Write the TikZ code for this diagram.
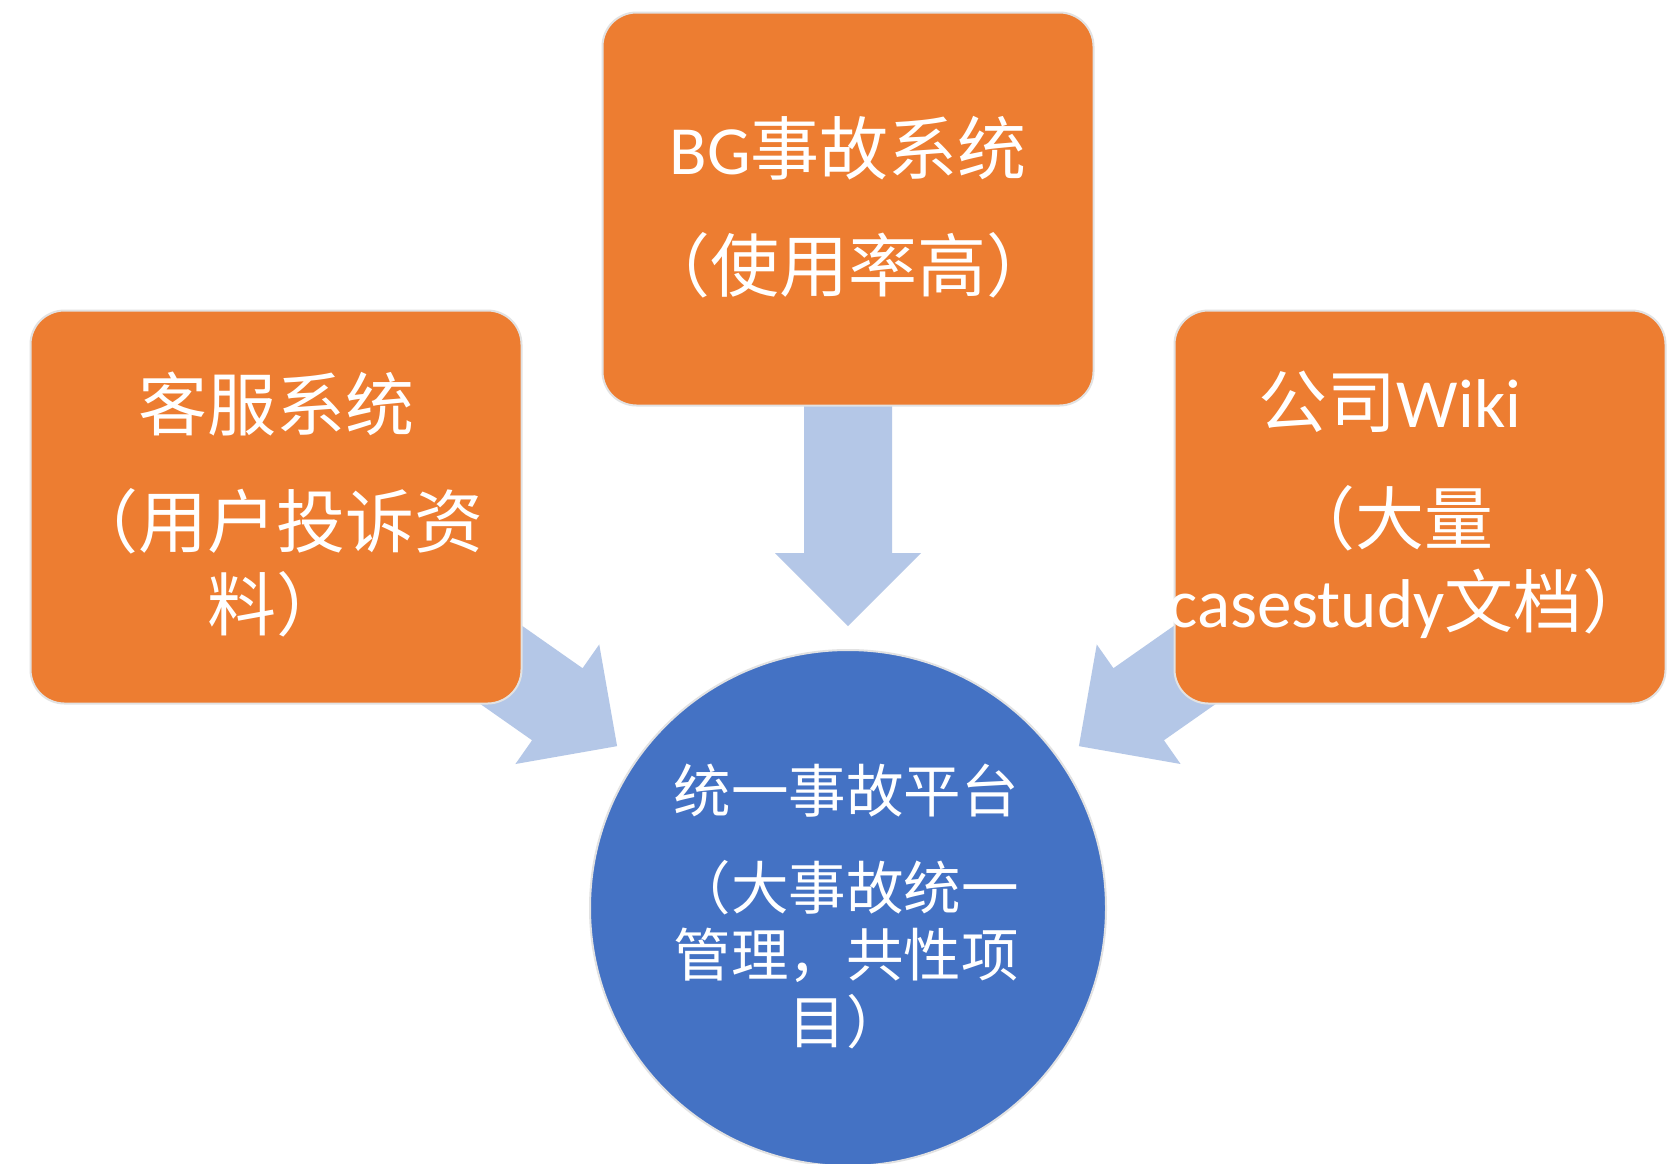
\documentclass[tikz,border=0pt]{standalone}
\usepackage{fontspec}
\setmainfont{Carlito}
\newfontfamily\cjk{Noto Sans CJK SC}
\newfontfamily\carl{Carlito}
\usetikzlibrary{calc}
\definecolor{boxorange}{HTML}{ED7D31}
\definecolor{hubblue}{HTML}{4472C4}
\definecolor{arrowblue}{HTML}{B4C7E7}
\definecolor{rimgray}{HTML}{E2E2E2}
\pgfdeclarelayer{arrowlayer}
\pgfsetlayers{arrowlayer,main}
\newcommand{\radialarrow}[1]{%
  \coordinate (#1-T) at ($(hub.center)!282pt!(#1.center)$);
  \coordinate (#1-B) at ($(hub.center)!355pt!(#1.center)$);
  \fill[blockarrow] (#1-T)
    -- ($(#1-B)!73pt!90:(hub.center)$)
    -- ($(#1-B)!44pt!90:(hub.center)$)
    -- ($(#1.center)!44pt!90:(hub.center)$)
    -- ($(#1.center)!44pt!-90:(hub.center)$)
    -- ($(#1-B)!44pt!-90:(hub.center)$)
    -- ($(#1-B)!73pt!-90:(hub.center)$)
    -- cycle;}
\begin{document}
\begin{tikzpicture}[x=1pt,y=-1pt,
  srcbox/.style={draw=rimgray, line width=2pt, fill=boxorange, rounded corners=34pt,
    minimum width=491pt, minimum height=393pt, inner sep=0pt},
  hubshape/.style={circle, draw=rimgray, line width=2pt, fill=hubblue,
    minimum size=516pt, inner sep=0pt},
  boxtext/.style={text=white, align=center, inner sep=0pt,
    font=\cjk\fontsize{69}{83}\selectfont},
  hubtext/.style={text=white, align=center, inner sep=0pt,
    font=\cjk\fontsize{57.5}{67}\selectfont},
  blockarrow/.style={fill=arrowblue}
]
\useasboundingbox (0,0) rectangle (1677,1163);
\clip (0,0) rectangle (1677,1163);

% shapes
\node[srcbox] (left) at (276,507) {};
\node[srcbox] (top) at (848,209) {};
\node[srcbox] (right) at (1420,507) {};
\node[hubshape] (hub) at (848,908) {};

% block arrows behind the boxes
\begin{pgfonlayer}{arrowlayer}
  \fill[white] (0,0) rectangle (1677,1163);
  \radialarrow{left}
  \radialarrow{top}
  \radialarrow{right}
\end{pgfonlayer}

% texts
\node[boxtext] (lefttext) at (276,505)
  {客服系统\\[34pt]（用户投诉资\\料）};
\node[boxtext] (toptext) at (848,207)
  {{\carl BG}事故系统\\[34pt]（使用率高）};
\node[boxtext] (righttext) at (1410,505)
  {公司{\carl Wiki}\kern40pt\\[34pt]（大量\kern40pt\\{\carl casestudy}文档）};
\node[hubtext] (hubtext) at (846,906)
  {统一事故平台\\[30pt]（大事故统一\\管理，共性项\\目）};
\end{tikzpicture}
\end{document}
